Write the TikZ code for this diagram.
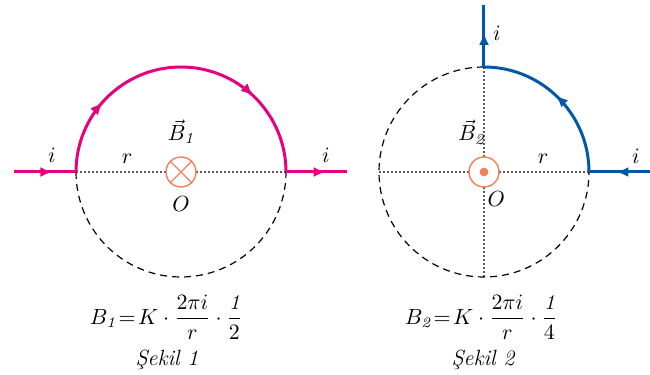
\documentclass[tikz,border=0pt]{standalone}
\usepackage{fontspec}
\usepackage{amsmath}
\usetikzlibrary{arrows.meta,positioning,calc,decorations.markings}
\definecolor{wirepink}{RGB}{230,0,126}
\definecolor{wireblue}{RGB}{0,88,166}
\definecolor{fieldorange}{RGB}{240,128,92}

\begin{document}
\begin{tikzpicture}[
  x=0.5pt, y=0.5pt, font=\fontsize{11}{13}\selectfont,
  wire/.style={line width=1.5pt},
  midarrow/.style={postaction={decorate}, decoration={markings,
    mark=at position #1 with {\arrow{Latex[length=6pt,width=5pt]}}}},
  guide/.style={dash pattern=on 0.8pt off 1.2pt, line width=0.6pt, black!65},
  rim/.style={dash pattern=on 3.5pt off 2.5pt, line width=0.6pt},
  field/.style={circle, draw=fieldorange, fill=white, line width=0.7pt,
    minimum size=15pt, inner sep=0pt},
  lbl/.style={inner sep=2pt},
  formula/.style={font=\fontsize{10.5}{12}\selectfont}
]
\useasboundingbox (0,0) rectangle (650,375);

% ---- Sekil 1 ----
\coordinate (C1) at (181,203);
\coordinate (L1) at (76,203);
\coordinate (R1) at (286,203);
\coordinate (in1) at (14,203);
\coordinate (out1) at (347,203);

\draw[guide] (L1) -- (R1);
\draw[rim] (L1) arc[start angle=180, end angle=360, radius=105];
\node[field] (O1) at (C1) {};
\draw[fieldorange, line width=0.7pt] (O1.45) -- (O1.225) (O1.135) -- (O1.315);

\draw[wire, wirepink, midarrow=0.62] (in1) -- (L1);
\draw[wire, wirepink, midarrow=0.23, midarrow=0.74]
  (L1) arc[start angle=180, end angle=0, radius=105];
\draw[wire, wirepink, midarrow=0.65] (R1) -- (out1);

\node[lbl, below=2pt of O1] (Olbl1) {$O$};
\node[lbl, above=4pt of O1] (B1) {$\vec{B}_{\mathit{1}}$};
\node[lbl] (r1) at (127,216) {$r$};
\node[lbl] (i1a) at (52,220) {$i$};
\node[lbl] (i1b) at (326,220) {$i$};

\node[formula] (F1) at (166,58) {$B_{\mathit{1}}\!=\!K\cdot\dfrac{2\pi i}{r}\cdot\dfrac{\mathit{1}}{2}$};
\node (S1) at (167,15) {\itshape Şekil 1};

% ---- Sekil 2 ----
\coordinate (C2) at (484,203);
\coordinate (L2) at (379,203);
\coordinate (R2) at (589,203);
\coordinate (T2) at (484,308);
\coordinate (D2) at (484,98);
\coordinate (in2) at (650,203);
\coordinate (out2) at (484,370);

\draw[guide] (L2) -- (R2);
\draw[guide] (T2) -- (D2);
\draw[rim] (T2) arc[start angle=90, end angle=360, radius=105];
\node[field] (O2) at (C2) {};
\fill[fieldorange] (O2.center) circle[radius=2.2pt];

\draw[wire, wireblue, midarrow=0.55] (in2) -- (R2);
\draw[wire, wireblue, midarrow=0.52]
  (R2) arc[start angle=0, end angle=90, radius=105];
\draw[wire, wireblue, midarrow=0.55] (T2) -- (out2);

\node[lbl, below right=2pt and -6pt of O2] (Olbl2) {$O$};
\node[lbl, above left=6pt and -8pt of O2] (B2) {$\vec{B}_{\mathit{2}}$};
\node[lbl] (r2) at (543,216) {$r$};
\node[lbl] (i2a) at (497,342) {$i$};
\node[lbl] (i2b) at (636,219) {$i$};

\node[formula] (F2) at (481,58) {$B_{\mathit{2}}\!=\!K\cdot\dfrac{2\pi i}{r}\cdot\dfrac{\mathit{1}}{4}$};
\node (S2) at (483,15) {\itshape Şekil 2};
\end{tikzpicture}
\end{document}
